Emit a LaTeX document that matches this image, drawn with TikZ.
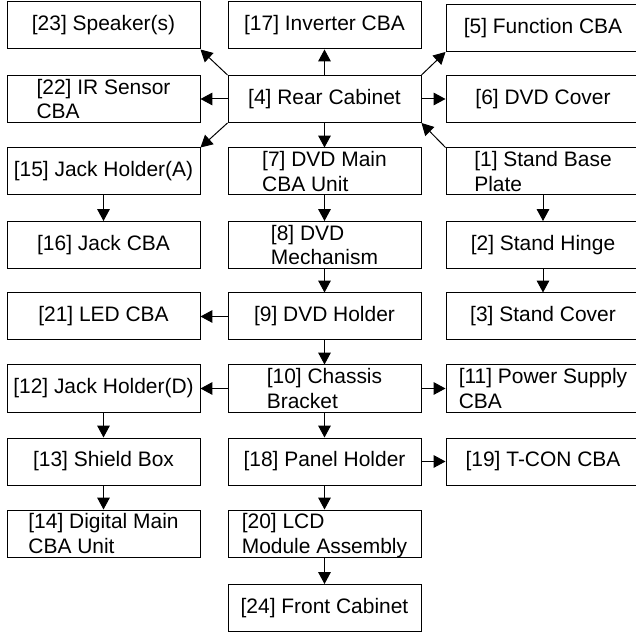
\documentclass[tikz,border=0pt]{standalone}
\usepackage{fontspec}
\setmainfont{Liberation Sans}
\usetikzlibrary{arrows.meta}

\begin{document}
\begin{tikzpicture}[
  font=\fontsize{14.9}{17.2}\selectfont,
  >={Triangle[length=8.5pt,width=9pt]},
  part/.style={
    rectangle,
    draw=black,
    fill=white,
    inner sep=0pt,
    minimum width=4.825cm,
    minimum height=1.175cm,
    align=left,
    line width=0.7pt,
  },
  partR/.style={part, minimum width=4.85cm},
  twoline/.style={text depth=-2pt},
  link/.style={->, line width=0.7pt},
]
  \clip (0,0) rectangle (15.9,15.825);

  % left column
  \node[part] (spk) at (2.5875,15.1875) {[23] Speaker(s)};
  \node[part, twoline] (irs) at (2.5875,13.35) {[22] IR Sensor\\CBA};
  \node[part] (jackA) at (2.5875,11.5375) {[15] Jack Holder(A)};
  \node[part] (jackcba) at (2.5875,9.7) {[16] Jack CBA};
  \node[part] (led) at (2.5875,7.9125) {[21] LED CBA};
  \node[part] (jackD) at (2.5875,6.1125) {[12] Jack Holder(D)};
  \node[part] (shield) at (2.5875,4.2875) {[13] Shield Box};
  \node[part, twoline] (digital) at (2.5875,2.4875) {[14] Digital Main\\CBA Unit};

  % middle column
  \node[part] (inv) at (8.1125,15.1875) {[17] Inverter CBA};
  \node[part] (rear) at (8.1125,13.35) {[4] Rear Cabinet};
  \node[part, twoline] (dvdmain) at (8.1125,11.5375) {[7] DVD Main\\CBA Unit};
  \node[part, twoline] (mech) at (8.1125,9.7) {[8] DVD\\Mechanism};
  \node[part] (dvdhold) at (8.1125,7.9125) {[9] DVD Holder};
  \node[part, twoline] (chassis) at (8.1125,6.1125) {[10] Chassis\\Bracket};
  \node[part] (panel) at (8.1125,4.2875) {[18] Panel Holder};
  \node[part, twoline] (lcd) at (8.1125,2.4875) {[20] LCD\\Module Assembly};
  \node[part] (front) at (8.1125,0.625) {[24] Front Cabinet};

  % right column
  \node[partR] (func) at (13.575,15.125) {[5] Function CBA};
  \node[partR] (cover) at (13.575,13.35) {[6] DVD Cover};
  \node[partR, twoline] (base) at (13.575,11.5375) {[1] Stand Base\\Plate};
  \node[partR] (hinge) at (13.575,9.7) {[2] Stand Hinge};
  \node[partR] (scover) at (13.575,7.9125) {[3] Stand Cover};
  \node[partR, twoline] (psu) at (13.575,6.1125) {[11] Power Supply\\CBA};
  \node[partR] (tcon) at (13.575,4.2875) {[19] T-CON CBA};

  % around the rear cabinet
  \draw[link] (rear.north west) -- (spk.south east);
  \draw[link] (rear.west) -- (irs.east);
  \draw[link] (rear.south west) -- (jackA.north east);
  \draw[link] (rear.north) -- (inv.south);
  \draw[link] (rear.north east) -- (func.south west);
  \draw[link] (rear.east) -- (cover.west);
  \draw[link] (base.north west) -- (rear.south east);

  % main chain
  \draw[link] (rear) -- (dvdmain);
  \draw[link] (dvdmain) -- (mech);
  \draw[link] (mech) -- (dvdhold);
  \draw[link] (dvdhold) -- (chassis);
  \draw[link] (chassis) -- (panel);
  \draw[link] (panel) -- (lcd);
  \draw[link] (lcd) -- (front);

  \draw[link] (dvdhold) -- (led);
  \draw[link] (chassis) -- (jackD);
  \draw[link] (chassis) -- (psu);
  \draw[link] (panel) -- (tcon);

  % side chains
  \draw[link] (jackA) -- (jackcba);
  \draw[link] (jackD) -- (shield);
  \draw[link] (shield) -- (digital);
  \draw[link] (base) -- (hinge);
  \draw[link] (hinge) -- (scover);

\end{tikzpicture}
\end{document}
